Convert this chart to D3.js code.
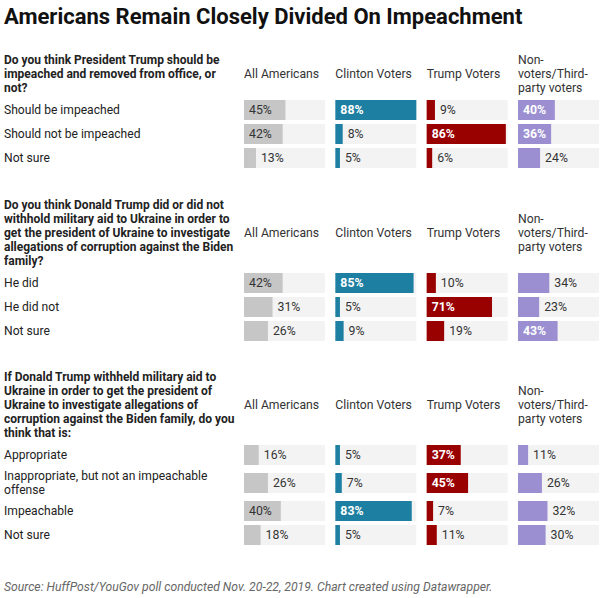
<!DOCTYPE html>
<html>
<head>
<meta charset="utf-8">
<script src="https://cdn.jsdelivr.net/npm/d3@7"></script>
<style>
  html, body { margin: 0; padding: 0; background: #fff; }
  svg { display: block; font-family: Roboto, "Noto Sans", sans-serif; }
</style>
</head>
<body>
<svg id="chart" width="609" height="598"></svg>
<script>
// ---------- DATA ----------
const chartTitle = "Americans Remain Closely Divided On Impeachment";
const sourceNote = "Source: HuffPost/YouGov poll conducted Nov. 20-22, 2019. Chart created using Datawrapper.";

const groups = ["All Americans", "Clinton Voters", "Trump Voters", "Non-voters/Third-party voters"];
const groupHeaderLines = [["All Americans"], ["Clinton Voters"], ["Trump Voters"], ["Non-", "voters/Third-", "party voters"]];
const groupColors = ["#c6c6c6", "#1d7fa1", "#990000", "#9b8fd1"];
const insideLabelColors = ["#333333", "#ffffff", "#ffffff", "#ffffff"];

const q1Lines = ["Do you think President Trump should be", "impeached and removed from office, or", "not?"];
const q1Answers = [["Should be impeached"], ["Should not be impeached"], ["Not sure"]];
const q1Values = [[45, 88, 9, 40], [42, 8, 86, 36], [13, 5, 6, 24]];

const q2Lines = ["Do you think Donald Trump did or did not", "withhold military aid to Ukraine in order to", "get the president of Ukraine to investigate", "allegations of corruption against the Biden", "family?"];
const q2Answers = [["He did"], ["He did not"], ["Not sure"]];
const q2Values = [[42, 85, 10, 34], [31, 5, 71, 23], [26, 9, 19, 43]];

const q3Lines = ["If Donald Trump withheld military aid to", "Ukraine in order to get the president of", "Ukraine to investigate allegations of", "corruption against the Biden family, do you", "think that is:"];
const q3Answers = [["Appropriate"], ["Inappropriate, but not an impeachable", "offense"], ["Impeachable"], ["Not sure"]];
const q3Values = [[16, 5, 37, 11], [26, 7, 45, 26], [40, 83, 7, 32], [18, 5, 11, 30]];

const questions = [
  { lines: q1Lines, answers: q1Answers, values: q1Values },
  { lines: q2Lines, answers: q2Answers, values: q2Values },
  { lines: q3Lines, answers: q3Answers, values: q3Values }
];

// ---------- LAYOUT ----------
const svg = d3.select("#chart");
const leftX = 4;
const lineH = 14;
const rowBase = 24;   // single-line row height
const barH = 20;

const xBand = d3.scaleBand().domain(groups).range([244, 599]).paddingInner(0.113).paddingOuter(0);
const colW = xBand.bandwidth();
const maxVal = d3.max(questions.flatMap(q => q.values.flat()));
const xVal = d3.scaleLinear().domain([0, maxVal]).range([0, colW]);

// Title
svg.append("text")
  .attr("x", leftX).attr("y", 24)
  .attr("font-size", 22).attr("font-weight", 700).attr("fill", "#111")
  .text(chartTitle);

const sectionFirstLineCenter = [60, 205, 377];

questions.forEach((q, qi) => {
  const g = svg.append("g");
  const top = sectionFirstLineCenter[qi];
  // question text
  q.lines.forEach((ln, i) => {
    g.append("text")
      .attr("x", leftX).attr("y", top + i * lineH)
      .attr("dy", "0.35em")
      .attr("font-size", 12).attr("font-weight", 700).attr("fill", "#222")
      .text(ln);
  });
  const lastCenter = top + (q.lines.length - 1) * lineH;
  const blockCenter = (top + lastCenter) / 2;
  // column headers
  groups.forEach((grp, gi) => {
    const hl = groupHeaderLines[gi];
    hl.forEach((ln, li) => {
      g.append("text")
        .attr("x", xBand(grp)).attr("y", blockCenter + (li - (hl.length - 1) / 2) * lineH)
        .attr("dy", "0.35em")
        .attr("font-size", 12.2).attr("fill", "#333")
        .text(ln);
    });
  });
  // rows
  let rowTop = lastCenter + 10;
  q.answers.forEach((ans, ai) => {
    const rh = rowBase + (ans.length - 1) * 8;
    const cy = rowTop + rh / 2;
    ans.forEach((ln, li) => {
      g.append("text")
        .attr("x", leftX).attr("y", cy + (li - (ans.length - 1) / 2) * lineH)
        .attr("dy", "0.35em")
        .attr("font-size", 12.1).attr("fill", "#222")
        .text(ln);
    });
    groups.forEach((grp, gi) => {
      const v = q.values[ai][gi];
      const bx = xBand(grp);
      const by = cy - barH / 2;
      g.append("rect").attr("x", bx).attr("y", by).attr("width", colW).attr("height", barH).attr("fill", "#f3f3f3");
      const bw = xVal(v);
      g.append("rect").attr("x", bx).attr("y", by).attr("width", bw).attr("height", barH).attr("fill", groupColors[gi]);
      const inside = bw > 32;
      const t = g.append("text")
        .attr("y", cy).attr("dy", "0.36em")
        .attr("font-size", 12.3)
        .text(v + "%");
      if (inside) {
        t.attr("x", bx + 5).attr("fill", insideLabelColors[gi])
          .attr("font-weight", gi === 0 ? 400 : 700);
      } else {
        t.attr("x", bx + bw + 5).attr("fill", "#333");
      }
    });
    rowTop += rh;
  });
});

// Source
svg.append("text")
  .attr("x", leftX).attr("y", 591)
  .attr("font-size", 12.2).attr("font-style", "italic").attr("fill", "#666")
  .text(sourceNote);
</script>
</body>
</html>
